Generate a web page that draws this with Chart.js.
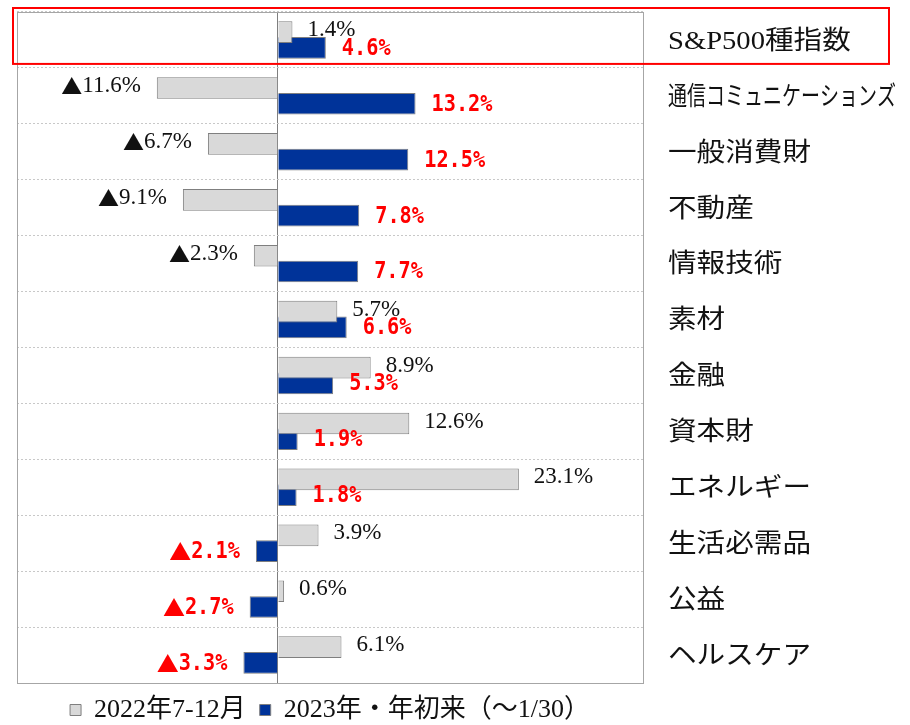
<!DOCTYPE html>
<html>
<head>
<meta charset="utf-8">
<script src="https://cdn.jsdelivr.net/npm/chart.js@4"></script>
<style>
  html, body { margin: 0; padding: 0; background: #fff; }
  #wrap { width: 910px; height: 725px; }
</style>
</head>
<body>
<div id="wrap"><canvas id="chart" width="910" height="725"></canvas></div>
<script>
  // sector names, top to bottom
  const categories = ['S&P500種指数', '通信コミュニケーションズ', '一般消費財', '不動産', '情報技術', '素材',
    '金融', '資本財', 'エネルギー', '生活必需品', '公益', 'ヘルスケア'];
  // returns in %
  const h2of2022 = [1.4, -11.6, -6.7, -9.1, -2.3, 5.7, 8.9, 12.6, 23.1, 3.9, 0.6, 6.1];
  const ytd2023 = [4.6, 13.2, 12.5, 7.8, 7.7, 6.6, 5.3, 1.9, 1.8, -2.1, -2.7, -3.3];
  const seriesNames = ['2022年7-12月', '2023年・年初来（～1/30）'];
  const axisMin = -25;
  const axisMax = 35;

  const serif = '"Liberation Serif", "Noto Sans CJK JP"';

  // how the value labels look for each series (sx = horizontal squeeze)
  const labelStyles = [
    { font: '23px "Liberation Serif"', tri: '21px "Noto Sans CJK JP"', color: '#111', posGap: 15, negGap: 16, dy: -2, sx: 1 },
    { font: 'bold 23px "DejaVu Sans Mono"', tri: 'bold 22px "Noto Sans CJK JP"', color: '#ff0000', posGap: 16, negGap: 16, dy: 1, sx: 0.88 }
  ];

  // solid frame round the plot area
  const framePlugin = {
    id: 'frame',
    beforeDatasetsDraw(chart) {
      const { ctx, chartArea: a } = chart;
      ctx.save();
      ctx.strokeStyle = '#a6a6a6';
      ctx.lineWidth = 1;
      ctx.strokeRect(a.left + 0.5, a.top + 0.5, a.right - a.left, a.bottom - a.top);
      ctx.restore();
    }
  };

  // value labels, category names on the right, red highlight box
  const labelPlugin = {
    id: 'labels',
    afterDatasetsDraw(chart) {
      const { ctx, chartArea: a } = chart;
      const yScale = chart.scales.y;

      chart.data.datasets.forEach((ds, di) => {
        const st = labelStyles[di];
        const meta = chart.getDatasetMeta(di);
        meta.data.forEach((bar, i) => {
          const v = ds.data[i];
          const txt = Math.abs(v).toFixed(1) + '%';
          const y = bar.y + st.dy;
          ctx.save();
          ctx.fillStyle = st.color;
          ctx.textBaseline = 'middle';
          ctx.font = st.font;
          const w = ctx.measureText(txt).width * st.sx;
          if (v >= 0) {
            ctx.save();
            ctx.translate(bar.x + st.posGap, y);
            ctx.scale(st.sx, 1);
            ctx.textAlign = 'left';
            ctx.fillText(txt, 0, 0);
            ctx.restore();
          } else {
            const right = bar.x - st.negGap;
            ctx.save();
            ctx.translate(right - w, y);
            ctx.scale(st.sx, 1);
            ctx.textAlign = 'left';
            ctx.fillText(txt, 0, 0);
            ctx.restore();
            ctx.font = st.tri;
            ctx.textAlign = 'right';
            ctx.fillText('▲', right - w, y);
          }
          ctx.restore();
        });
      });

      // category names, slightly stretched like the original
      ctx.save();
      ctx.fillStyle = '#111';
      ctx.textBaseline = 'middle';
      ctx.textAlign = 'left';
      ctx.font = '26px ' + serif;
      const x0 = a.right + 25;
      categories.forEach((c, i) => {
        const y = yScale.getPixelForValue(i) + 2;
        const w = ctx.measureText(c).width;
        let sx = 1.1;
        if (w * sx > 228) sx = 228 / w;
        ctx.save();
        ctx.translate(x0, y);
        ctx.scale(sx, 1);
        ctx.fillText(c, 0, 0);
        ctx.restore();
      });
      ctx.restore();

      // red box round the index row
      const rowH = (a.bottom - a.top) / categories.length;
      const top = a.top - 4;
      const bottom = yScale.getPixelForValue(0) + rowH / 2 - 4;
      ctx.save();
      ctx.strokeStyle = '#ff0000';
      ctx.lineWidth = 2;
      ctx.strokeRect(a.left - 4, top, chart.width - 21 - (a.left - 4), bottom - top);
      ctx.restore();
    }
  };

  new Chart(document.getElementById('chart'), {
    type: 'bar',
    data: {
      labels: categories,
      datasets: [
        {
          label: seriesNames[0],
          data: h2of2022,
          backgroundColor: '#d9d9d9',
          borderColor: '#7f7f7f',
          borderWidth: 1,
          categoryPercentage: 0.565,
          barPercentage: 1.37
        },
        {
          label: seriesNames[1],
          data: ytd2023,
          backgroundColor: '#003399',
          borderColor: '#7f7f7f',
          borderWidth: 1,
          categoryPercentage: 0.565,
          barPercentage: 1.37
        }
      ]
    },
    options: {
      indexAxis: 'y',
      responsive: false,
      animation: false,
      layout: { padding: { left: 17, right: 267, top: 12, bottom: -8 } },
      scales: {
        x: {
          min: axisMin,
          max: axisMax,
          ticks: { display: false, stepSize: 5 },
          grid: {
            drawTicks: false,
            color: (ctx) => (ctx.tick && ctx.tick.value === 0 ? '#7f7f7f' : 'rgba(0,0,0,0)')
          },
          border: { display: false }
        },
        y: {
          position: 'right',
          ticks: { display: false },
          grid: { drawTicks: false, color: '#c8c8c8', offset: true },
          border: { display: false, dash: [2, 2] }
        }
      },
      plugins: {
        legend: {
          position: 'bottom',
          labels: {
            boxWidth: 11,
            boxHeight: 11,
            padding: 14,
            color: '#111',
            font: { family: serif, size: 26, lineHeight: 1 }
          }
        },
        tooltip: { enabled: false }
      }
    },
    plugins: [framePlugin, labelPlugin]
  });
</script>
</body>
</html>
